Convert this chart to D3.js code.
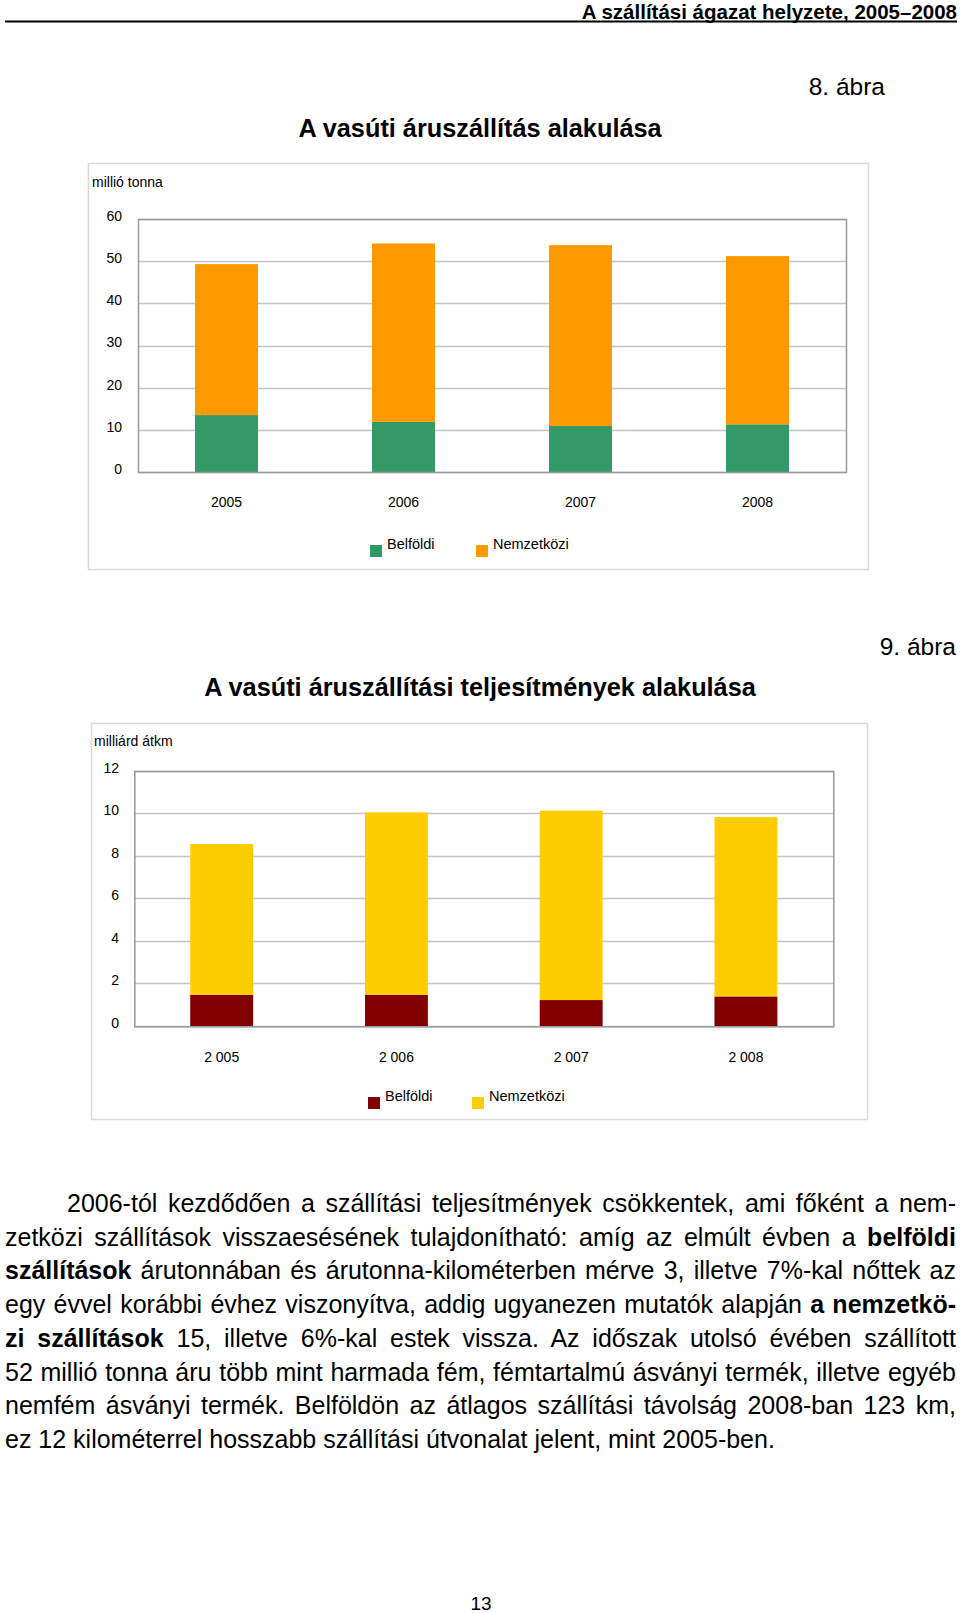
<!DOCTYPE html>
<html><head><meta charset="utf-8">
<script src="https://cdn.jsdelivr.net/npm/d3@7"></script>
<style>
html,body{margin:0;padding:0;background:#fff;}
svg{display:block;font-family:"Liberation Sans",Arial,sans-serif;}
</style></head>
<body>
<svg id="page" width="960" height="1613"></svg>
<script>
// ---- Data ----
const years1 = ["2005", "2006", "2007", "2008"];
const belfoldi1 = [13.5, 11.9, 10.9, 11.3];
const nemzetkozi1 = [35.8, 42.3, 42.9, 39.9];
const ticks1 = [0, 10, 20, 30, 40, 50, 60];

const years2 = ["2 005", "2 006", "2 007", "2 008"];
const belfoldi2 = [1.47, 1.47, 1.22, 1.39];
const nemzetkozi2 = [7.08, 8.57, 8.90, 8.43];
const ticks2 = [0, 2, 4, 6, 8, 10, 12];

const seriesNames = ["Belföldi", "Nemzetközi"];

const svg = d3.select("#page");

// header
svg.append("text").attr("x", 957).attr("y", 18.8).attr("text-anchor", "end")
  .attr("font-size", 20.5).attr("font-weight", "bold").text("A szállítási ágazat helyzete, 2005–2008");
svg.append("line").attr("x1", 5).attr("x2", 957).attr("y1", 21.5).attr("y2", 21.5)
  .attr("stroke", "#000").attr("stroke-width", 2);

function chart(opt) {
  const g = svg.append("g");
  g.append("text").attr("x", opt.figX).attr("y", opt.figY).attr("text-anchor", "end")
    .attr("font-size", 24.5).text(opt.fig);
  g.append("text").attr("x", opt.titleX).attr("y", opt.titleY).attr("text-anchor", "middle")
    .attr("font-size", 25.3).attr("font-weight", "bold").text(opt.title);
  // frame
  g.append("rect").attr("x", opt.frame[0] + 0.5).attr("y", opt.frame[1] + 0.5)
    .attr("width", opt.frame[2] - opt.frame[0]).attr("height", opt.frame[3] - opt.frame[1])
    .attr("fill", "#fff").attr("stroke", "#d9d9d9").attr("stroke-width", 1.5);
  g.append("text").attr("x", opt.unitX).attr("y", opt.unitY).attr("font-size", 14).text(opt.unit);

  const x = d3.scaleBand().domain(opt.years).range([opt.plot[0], opt.plot[2]])
    .paddingInner(opt.pad).paddingOuter(opt.pad / 2);
  const y = d3.scaleLinear().domain([0, opt.ticks[opt.ticks.length - 1]]).range([opt.plot[3], opt.plot[1]]);

  // gridlines
  g.append("g").selectAll("line").data(opt.ticks).join("line")
    .attr("x1", opt.plot[0]).attr("x2", opt.plot[2])
    .attr("y1", d => Math.round(y(d)) + 0.5).attr("y2", d => Math.round(y(d)) + 0.5)
    .attr("stroke", "#c4c4c4").attr("stroke-width", 1.5);

  // y axis labels
  const ya = g.append("g").attr("transform", `translate(${opt.plot[0]},0)`)
    .call(d3.axisLeft(y).tickValues(opt.ticks).tickSize(0).tickPadding(opt.plot[0] - opt.labelX).tickFormat(d3.format("d")));
  ya.select(".domain").remove();
  ya.selectAll("text").attr("font-size", 14).attr("font-family", "Liberation Sans, Arial, sans-serif")
    .attr("fill", "#000").attr("dy", "0.1em");

  // bars
  const stack = opt.years.map((yr, i) => ({yr, b: opt.belf[i], n: opt.nemz[i]}));
  g.append("g").selectAll("rect.b").data(stack).join("rect")
    .attr("x", d => x(d.yr)).attr("width", x.bandwidth())
    .attr("y", d => y(d.b)).attr("height", d => y(0) - y(d.b)).attr("fill", opt.colors[0]);
  g.append("g").selectAll("rect.n").data(stack).join("rect")
    .attr("x", d => x(d.yr)).attr("width", x.bandwidth())
    .attr("y", d => y(d.b + d.n)).attr("height", d => y(d.b) - y(d.b + d.n)).attr("fill", opt.colors[1]);

  // plot border
  g.append("rect").attr("x", opt.plot[0] + 0.5).attr("y", Math.round(opt.plot[1]) + 0.5)
    .attr("width", opt.plot[2] - opt.plot[0]).attr("height", opt.plot[3] - opt.plot[1])
    .attr("fill", "none").attr("stroke", "#9a9a9a").attr("stroke-width", 1.5);

  // x labels
  const xa = g.append("g").attr("transform", `translate(0,${opt.plot[3]})`)
    .call(d3.axisBottom(x).tickSize(0).tickPadding(opt.xLabY - opt.plot[3]));
  xa.select(".domain").remove();
  xa.selectAll("text").attr("font-size", 14).attr("font-family", "Liberation Sans, Arial, sans-serif")
    .attr("fill", "#000").attr("dy", "0");

  // legend
  const lg = g.append("g");
  seriesNames.forEach((nm, i) => {
    lg.append("rect").attr("x", opt.legX[i]).attr("y", opt.legY).attr("width", 12).attr("height", 12)
      .attr("fill", opt.colors[i]);
    lg.append("text").attr("x", opt.legX[i] + 17).attr("y", opt.legY + 4).attr("font-size", 14.5).text(nm);
  });
}

chart({
  fig: "8. ábra", figX: 885, figY: 95,
  title: "A vasúti áruszállítás alakulása", titleX: 480, titleY: 137,
  frame: [88, 163, 868, 569],
  unit: "millió tonna", unitX: 92, unitY: 187,
  plot: [138, 219, 846, 472],
  labelX: 122,
  pad: 0.644,
  years: years1, belf: belfoldi1, nemz: nemzetkozi1, ticks: ticks1,
  colors: ["#339966", "#FF9900"],
  xLabY: 507,
  legX: [370, 476], legY: 545
});

chart({
  fig: "9. ábra", figX: 956, figY: 655,
  title: "A vasúti áruszállítási teljesítmények alakulása", titleX: 480, titleY: 696,
  frame: [91, 723, 867, 1119],
  unit: "milliárd átkm", unitX: 94, unitY: 746,
  plot: [134.3, 770.7, 833.3, 1026],
  labelX: 119,
  pad: 0.64,
  years: years2, belf: belfoldi2, nemz: nemzetkozi2, ticks: ticks2,
  colors: ["#800000", "#FFCC00"],
  xLabY: 1062,
  legX: [368, 472], legY: 1097
});

// paragraph
const lines = [
  {x: 67, parts: [["2006-tól kezdődően a szállítási teljesítmények csökkentek, ami főként a nem-", 0]]},
  {x: 5, parts: [["zetközi szállítások visszaesésének tulajdonítható: amíg az elmúlt évben a ", 0], ["belföldi", 1]]},
  {x: 5, parts: [["szállítások", 1], [" árutonnában és árutonna-kilométerben mérve 3, illetve 7%-kal nőttek az", 0]]},
  {x: 5, parts: [["egy évvel korábbi évhez viszonyítva, addig ugyanezen mutatók alapján ", 0], ["a nemzetkö-", 1]]},
  {x: 5, parts: [["zi szállítások", 1], [" 15, illetve 6%-kal estek vissza. Az időszak utolsó évében szállított", 0]]},
  {x: 5, parts: [["52 millió tonna áru több mint harmada fém, fémtartalmú ásványi termék, illetve egyéb", 0]]},
  {x: 5, parts: [["nemfém ásványi termék. Belföldön az átlagos szállítási távolság 2008-ban 123 km,", 0]]},
  {x: 5, parts: [["ez 12 kilométerrel hosszabb szállítási útvonalat jelent, mint 2005-ben.", 0]], last: true}
];
const rightEdge = 956;
lines.forEach((ln, i) => {
  const t = svg.append("text").attr("x", ln.x).attr("y", 1212 + i * 33.7).attr("font-size", 25)
    .attr("xml:space", "preserve");
  ln.parts.forEach(p => t.append("tspan").attr("font-weight", p[1] ? "bold" : null).text(p[0]));
  if (!ln.last) {
    const w = t.node().getComputedTextLength();
    const full = ln.parts.map(p => p[0]).join("");
    const nSp = (full.match(/ /g) || []).length;
    t.attr("word-spacing", (rightEdge - ln.x - w) / nSp);
  }
});

svg.append("text").attr("x", 481).attr("y", 1610).attr("text-anchor", "middle").attr("font-size", 19).text("13");
</script>
</body></html>
